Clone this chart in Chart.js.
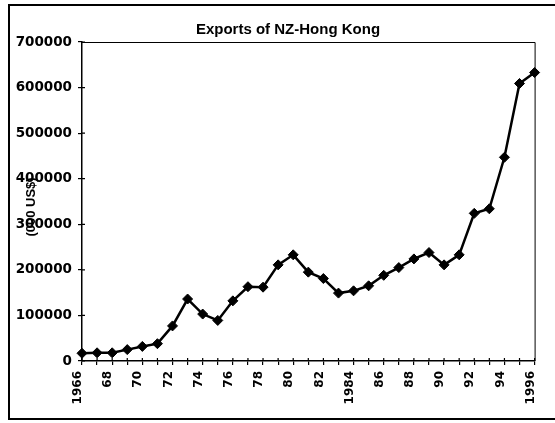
<!DOCTYPE html>
<html>
<head>
<meta charset="utf-8">
<script src="https://cdn.jsdelivr.net/npm/chart.js@4/dist/chart.umd.min.js"></script>
<style>
  html, body { margin: 0; padding: 0; background: #fff; }
  #wrap { position: relative; width: 555px; height: 423px; overflow: hidden; }
  #frame { position: absolute; left: 8px; top: 4px; width: 600px; height: 412px; border: 2px solid #000; }
  #chart { position: absolute; left: 0; top: 0; }
</style>
</head>
<body>
<div id="wrap">
  <div id="frame"></div>
  <canvas id="chart" width="555" height="423"></canvas>
</div>
<script>
(function() {
  'use strict';

  var years = ['1966', '1967', '1968', '1969', '1970', '1971', '1972', '1973', '1974', '1975',
               '1976', '1977', '1978', '1979', '1980', '1981', '1982', '1983', '1984', '1985',
               '1986', '1987', '1988', '1989', '1990', '1991', '1992', '1993', '1994', '1995', '1996'];

  var xTickLabels = ['1966', '', '68', '', '70', '', '72', '', '74', '', '76', '', '78', '', '80', '',
                     '82', '', '1984', '', '86', '', '88', '', '90', '', '92', '', '94', '', '1996'];

  var exportsHK = [17000, 18000, 18000, 25000, 32000, 38000, 77000, 136000, 103000, 89000,
                   132000, 163000, 162000, 211000, 233000, 195000, 181000, 149000, 154000, 165000,
                   188000, 205000, 224000, 238000, 211000, 233000, 324000, 334000, 447000, 609000, 633000];

  var chartTitle = 'Exports of NZ-Hong Kong';
  var yTitle = '(000 US$)';

  var BLACK = '#000000';
  var FONT_TICK = "'DejaVu Sans', sans-serif";

  /* plot-area box, inner half of the crossing ticks, the titles */
  var decor = {
    id: 'decor',
    beforeDatasetsDraw: function(chart) {
      var c = chart.ctx, a = chart.chartArea;
      c.save();
      c.strokeStyle = BLACK;
      c.lineWidth = 1;
      c.beginPath();
      c.moveTo(a.left, a.top + 0.5);
      c.lineTo(a.right + 0.5, a.top + 0.5);
      c.lineTo(a.right + 0.5, a.bottom);
      c.stroke();

      c.lineWidth = 1.2;
      var xs = chart.scales.x, ys = chart.scales.y;
      c.beginPath();
      for (var i = 0; i < xs.ticks.length; i++) {
        var px = xs.getPixelForTick(i);
        c.moveTo(px, a.bottom);
        c.lineTo(px, a.bottom - 3);
      }
      for (var j = 0; j < ys.ticks.length; j++) {
        var py = ys.getPixelForTick(j);
        c.moveTo(a.left, py);
        c.lineTo(a.left + 3, py);
      }
      c.stroke();
      c.restore();
    },
    afterDraw: function(chart) {
      var c = chart.ctx;
      c.save();
      c.fillStyle = BLACK;
      c.textAlign = 'center';
      c.textBaseline = 'middle';

      c.font = "bold 15px 'Liberation Sans', Arial, sans-serif";
      c.fillText(chartTitle, 288, 30);

      c.translate(31, 207);
      c.rotate(-Math.PI / 2);
      c.font = "bold 13px 'Liberation Sans', Arial, sans-serif";
      c.fillText(yTitle, 0, 0);
      c.restore();
    }
  };

  new Chart(document.getElementById('chart'), {
    type: 'line',
    data: {
      labels: years,
      datasets: [{
        label: chartTitle,
        data: exportsHK,
        borderColor: BLACK,
        backgroundColor: BLACK,
        borderWidth: 2.5,
        pointStyle: 'rectRot',
        pointRadius: 5,
        pointBackgroundColor: BLACK,
        pointBorderColor: BLACK,
        pointBorderWidth: 1,
        tension: 0,
        clip: false
      }]
    },
    options: {
      responsive: false,
      animation: false,
      layout: { padding: { left: 8, right: 18, top: 42, bottom: 10 } },
      plugins: {
        legend: { display: false },
        tooltip: { enabled: false },
        title: { display: false }
      },
      scales: {
        x: {
          afterFit: function(s) { s.height = 52; },
          border: { color: BLACK, width: 1.5 },
          grid: { drawOnChartArea: false, drawTicks: true, tickLength: 4, color: BLACK, lineWidth: 1.2 },
          ticks: {
            color: BLACK,
            autoSkip: false,
            minRotation: 90,
            maxRotation: 90,
            padding: 6,
            labelOffset: -4,
            font: { family: FONT_TICK, size: 12, weight: 'bold' },
            callback: function(v, i) { return xTickLabels[i]; }
          }
        },
        y: {
          min: 0,
          max: 700000,
          afterFit: function(s) { s.width = 74; },
          border: { color: BLACK, width: 1.5 },
          grid: { drawOnChartArea: false, drawTicks: true, tickLength: 4, color: BLACK, lineWidth: 1.2 },
          ticks: {
            stepSize: 100000,
            color: BLACK,
            padding: 6,
            font: { family: FONT_TICK, size: 13.5, weight: 'bold' },
            callback: function(v) { return String(v); }
          }
        }
      }
    },
    plugins: [decor]
  });
})();
</script>
</body>
</html>
